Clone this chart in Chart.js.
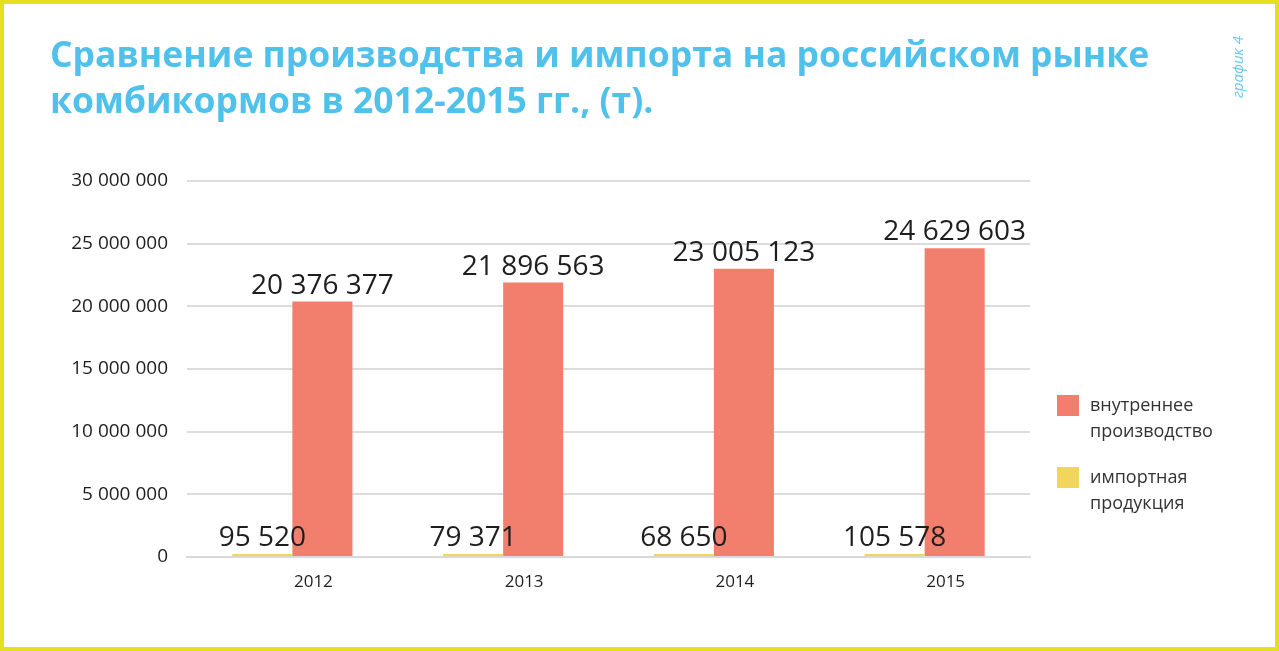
<!DOCTYPE html>
<html><head><meta charset="utf-8">
<script src="https://cdn.jsdelivr.net/npm/chart.js@4.4.1/dist/chart.umd.min.js"></script>
<style>
html,body{margin:0;padding:0;background:#fff;}
#wrap{position:relative;width:1279px;height:651px;overflow:hidden;background:#fff;}
#frame{position:absolute;left:0;top:0;width:1271px;height:643px;border:4px solid #e6df1e;pointer-events:none;z-index:5;}
#title{position:absolute;left:50px;top:30px;font-family:"Open Sans",sans-serif;font-weight:700;font-size:35.5px;line-height:46px;color:#4fc1ea;white-space:nowrap;}
#tag{position:absolute;left:1237px;top:67px;transform:translate(-50%,-50%) rotate(-90deg);font-family:"Open Sans",sans-serif;font-style:italic;font-size:15px;color:#6cc8ec;white-space:nowrap;}
canvas{position:absolute;left:0;top:0;}
.lg{position:absolute;left:1057px;font-family:"Open Sans",sans-serif;font-size:18px;line-height:26px;color:#333;}
.lg i{position:absolute;left:0;top:2px;width:22px;height:21px;}
.lg span{position:absolute;left:33px;top:-2px;white-space:nowrap;}
</style></head>
<body>
<div id="wrap">
<canvas id="c" width="1279" height="651"></canvas>
<div id="title">Сравнение производства и импорта на российском рынке<br>комбикормов в 2012-2015 гг., (т).</div>
<div id="tag">график 4</div>
<div class="lg" style="top:393px"><i style="background:#f27f6d"></i><span>внутреннее<br>производство</span></div>
<div class="lg" style="top:465px"><i style="background:#f1d65e"></i><span>импортная<br>продукция</span></div>
<div id="frame"></div>
</div>
<script>
const categories = ["2012", "2013", "2014", "2015"];
const importValues = [95520, 79371, 68650, 105578];
const domesticValues = [20376377, 21896563, 23005123, 24629603];
const seriesNames = ["импортная продукция", "внутреннее производство"];

function fmt(v, sep){ return String(v).replace(/\B(?=(\d{3})+(?!\d))/g, sep || " "); }

const valueLabels = {
  id: "valueLabels",
  afterDatasetsDraw(chart){
    const ctx = chart.ctx;
    ctx.save();
    ctx.font = '28px "Open Sans", sans-serif';
    ctx.fillStyle = "#1e1e1e";
    ctx.textAlign = "center";
    ctx.textBaseline = "alphabetic";
    chart.data.datasets.forEach((ds, di) => {
      const meta = chart.getDatasetMeta(di);
      meta.data.forEach((bar, i) => {
        ctx.fillText(fmt(ds.data[i]), bar.x, bar.y - 8);
      });
    });
    ctx.restore();
  }
};

new Chart(document.getElementById("c"), {
  type: "bar",
  data: {
    labels: categories,
    datasets: [
      { label: seriesNames[0], data: importValues, backgroundColor: "#f1d65e", categoryPercentage: 0.57, barPercentage: 1.0, minBarLength: 3 },
      { label: seriesNames[1], data: domesticValues, backgroundColor: "#f27f6d", categoryPercentage: 0.57, barPercentage: 1.0 }
    ]
  },
  options: {
    responsive: false,
    animation: false,
    layout: { padding: { left: 0, right: 249, top: 181, bottom: 0 } },
    plugins: { legend: { display: false }, tooltip: { enabled: false }, title: { display: false } },
    scales: {
      x: {
        grid: { display: false, drawTicks: false },
        border: { display: true, color: "#d9d9d9", width: 2 },
        ticks: { color: "#1e1e1e", font: { family: "Open Sans", size: 17 }, padding: 15, labelOffset: 21 },
        afterFit(s){ s.height = 94; }
      },
      y: {
        min: 0, max: 30000000,
        grid: { color: "#dcdcdc", lineWidth: 2, drawTicks: false },
        border: { display: false },
        ticks: { stepSize: 5000000, color: "#1e1e1e", font: { family: "Open Sans", size: 19 }, padding: 19,
          callback: v => fmt(v, " ") },
        afterFit(s){ s.width = 187; }
      }
    }
  },
  plugins: [valueLabels]
});
</script>
</body></html>
